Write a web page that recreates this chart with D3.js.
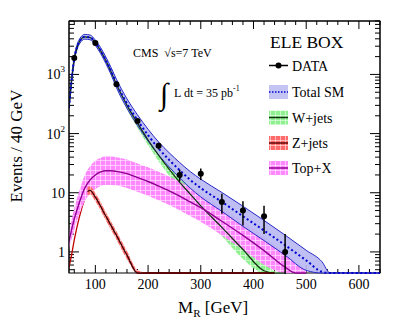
<!DOCTYPE html>
<html><head><meta charset="utf-8">
<script src="https://cdn.jsdelivr.net/npm/d3@7"></script>
<style>
body{margin:0;background:#fff}
svg{display:block}
text{font-family:"Liberation Serif","Times New Roman",serif;fill:#000}
</style>
</head><body>
<svg id="c" width="407" height="322"></svg>
<script>
// ---------------- data ----------------
const dataM   = [60,100,140,180,220,260,300,340,380,420,460];
const dataN   = [1900,3400,680,164,62,20,21,7,5,4,1];
const dataErr = [44,58,26,13,8,4.5,4.6,2.6,2.2,2,1];

const totM   = [50,55,60,65,70,80,90,100,110,120,130,140,160,180,200,220,240,260,280,300,340,380,420,460,500,530,545,640];
const totV   = [280,810,1830,2850,3620,4330,4230,3430,2530,1730,1130,705,322,168,94,56,36,24,16.5,12,7,4,2.3,1.3,0.72,0.46,0.3,0.001];
const totErr = [0.04,0.04,0.04,0.04,0.04,0.04,0.04,0.045,0.05,0.055,0.06,0.07,0.08,0.09,0.1,0.11,0.12,0.13,0.14,0.15,0.16,0.17,0.17,0.17,0.17,0.17,0.17,0.17];

const wM   = [50,55,60,65,70,80,90,100,110,120,130,140,160,180,200,220,240,260,280,300,340,380,420,440,460];
const wV   = [270,800,1800,2800,3600,4300,4200,3400,2500,1700,1100,680,300,150,78,43,25,15,9.5,6,2.6,1.1,0.48,0.32,0.2];
const wErr = [0.03,0.03,0.03,0.03,0.03,0.03,0.03,0.035,0.04,0.045,0.05,0.06,0.07,0.08,0.09,0.1,0.11,0.12,0.13,0.14,0.15,0.16,0.17,0.17,0.17];

const topM   = [50,55,60,70,80,90,100,110,120,130,140,160,180,200,220,240,260,280,300,340,380,420,460,480,500];
const topV   = [1.5,2.4,3.6,7,12,16.5,20,22.5,23.5,23.5,23,21,18,15.5,13,10.8,8.8,7,5.6,3.3,1.9,1.05,0.55,0.4,0.28];
const topErr = [0.14,0.16,0.18,0.2,0.22,0.23,0.24,0.24,0.24,0.24,0.24,0.24,0.24,0.24,0.24,0.24,0.24,0.24,0.24,0.24,0.24,0.24,0.24,0.24,0.24];

const zM   = [50,55,60,70,80,85,90,100,120,140,160,180,200,440];
const zV   = [0.55,0.9,1.6,4,8,10.5,11,8.4,4.0,1.9,0.88,0.42,0.2,0.001];
const zErr = [0.07,0.07,0.07,0.07,0.07,0.07,0.07,0.07,0.07,0.07,0.07,0.07,0.07,0.07];
const zBandStart = 82;

const xTicks = [100,200,300,400,500,600];
const yTicks = [1,10,100,1000];
const yTickLabels = [["1",""],["10",""],["10","2"],["10","3"]];

const legendItems = ["DATA","Total SM","W+jets","Z+jets","Top+X"];

// ---------------- layout ----------------
const L=69,R=380,T=21,B=273;
const ymin=0.44, ymax=8000;
const x = d3.scaleLinear().domain([50,640]).range([L,R]);
const y = d3.scaleLog().domain([ymin,ymax]).range([B,T]);
const cy = v => y(Math.max(v, ymin));

const svg = d3.select("#c");
svg.append("rect").attr("width",407).attr("height",322).attr("fill","#fff");
const defs = svg.append("defs");
defs.append("clipPath").attr("id","clip").append("rect")
  .attr("x",L).attr("y",T).attr("width",R-L).attr("height",B-T+1);

function pat(id, col){
  const p = defs.append("pattern").attr("id",id).attr("width",5).attr("height",5)
    .attr("patternUnits","userSpaceOnUse");
  p.append("rect").attr("width",5).attr("height",5).attr("fill",col);
  p.append("path").attr("d","M0,0.5H5M0.5,0V5").attr("stroke","#fff")
    .attr("stroke-width",0.7).attr("opacity",0.75);
}
pat("pGreen","#8ef08e");
pat("pRed","#ff6b6b");
pat("pPink","#ff88ff");

function series(M,V,E){ return M.map((m,i)=>({m, v:V[i], e:E[i]})); }
const area = d3.area().curve(d3.curveMonotoneX)
  .x(d=>x(d.m))
  .y0(d=>cy(d.v/Math.pow(10,d.e)))
  .y1(d=>cy(d.v*Math.pow(10,d.e)));
const line = d3.line().curve(d3.curveMonotoneX).x(d=>x(d.m)).y(d=>cy(d.v));
const lineLo = d3.line().curve(d3.curveMonotoneX).x(d=>x(d.m)).y(d=>cy(d.v/Math.pow(10,d.e)));
const lineHi = d3.line().curve(d3.curveMonotoneX).x(d=>x(d.m)).y(d=>cy(d.v*Math.pow(10,d.e)));

const W = series(wM,wV,wErr), TOP = series(topM,topV,topErr), Z = series(zM,zV,zErr), TOT = series(totM,totV,totErr);
const Zb = Z.filter(d=>d.m>=zBandStart);

// ---------------- frame & ticks (under the curves) ----------------
const ax = svg.append("g").attr("stroke","#000").attr("stroke-width",1);
ax.append("rect").attr("x",L).attr("y",T).attr("width",R-L).attr("height",B-T).attr("fill","none");
for(let m=60;m<=640;m+=20){
  const major = xTicks.includes(m);
  const len = major?8:4;
  ax.append("line").attr("x1",x(m)).attr("x2",x(m)).attr("y1",B).attr("y2",B-len);
  ax.append("line").attr("x1",x(m)).attr("x2",x(m)).attr("y1",T).attr("y2",T+len);
}
for(let p=-1;p<=3;p++){
  for(let k=1;k<=9;k++){
    const v=k*Math.pow(10,p);
    if(v<ymin||v>ymax) continue;
    const len = k===1?10:5;
    ax.append("line").attr("x1",L).attr("x2",L+len).attr("y1",y(v)).attr("y2",y(v));
    ax.append("line").attr("x1",R).attr("x2",R-len).attr("y1",y(v)).attr("y2",y(v));
  }
}

const g = svg.append("g").attr("clip-path","url(#clip)");
// W band
g.append("path").datum(W).attr("d",area).attr("fill","url(#pGreen)");
// Z line (lower-left part, under the Top band)
g.append("path").datum(Z).attr("d",line).attr("fill","none").attr("stroke","#c00000").attr("stroke-width",1.3);
// Top band
g.append("path").datum(TOP).attr("d",area).attr("fill","url(#pPink)");
// Z band
g.append("path").datum(Zb).attr("d",area).attr("fill","url(#pRed)");
// Total SM band
g.append("path").datum(TOT).attr("d",area).attr("fill","#b8b8f2").attr("fill-opacity",0.9);
g.append("path").datum(TOT).attr("d",lineLo).attr("fill","none").attr("stroke","#2828c8").attr("stroke-width",1);
g.append("path").datum(TOT).attr("d",lineHi).attr("fill","none").attr("stroke","#2828c8").attr("stroke-width",1);
// lines
g.append("path").datum(W).attr("d",line).attr("fill","none").attr("stroke","#103010").attr("stroke-width",1.2);
g.append("path").datum(TOP).attr("d",line).attr("fill","none").attr("stroke","#900090").attr("stroke-width",1.4);
g.append("path").datum(Zb).attr("d",line).attr("fill","none").attr("stroke","#400000").attr("stroke-width",1.3);
g.append("path").datum(TOT).attr("d",line).attr("fill","none").attr("stroke","#0000d0")
  .attr("stroke-width",2).attr("stroke-dasharray","2,2.5");

// data
const dg = svg.append("g").attr("clip-path","url(#clip)");
dataM.forEach((m,i)=>{
  const lo = dataN[i]-dataErr[i], hi = dataN[i]+dataErr[i];
  dg.append("line").attr("x1",x(m)).attr("x2",x(m))
    .attr("y1",lo>0?y(lo):B+2).attr("y2",y(hi)).attr("stroke","#000").attr("stroke-width",1.5);
  dg.append("circle").attr("cx",x(m)).attr("cy",y(dataN[i])).attr("r",3).attr("fill","#000");
});

// left/right frame edges redrawn on top
const ax2 = svg.append("g").attr("stroke","#000").attr("stroke-width",1);
ax2.append("line").attr("x1",L).attr("x2",L).attr("y1",T).attr("y2",B);
ax2.append("line").attr("x1",R).attr("x2",R).attr("y1",T).attr("y2",B);
ax2.append("line").attr("x1",L).attr("x2",R).attr("y1",T).attr("y2",T);

// tick labels
xTicks.forEach(t=>{
  svg.append("text").attr("x",x(t)).attr("y",289).attr("text-anchor","middle")
    .attr("font-size",14).text(t);
});
yTicks.forEach((t,i)=>{
  const tx = svg.append("text").attr("x",65).attr("y",y(t)+5).attr("text-anchor","end").attr("font-size",14);
  tx.append("tspan").text(yTickLabels[i][0]);
  if(yTickLabels[i][1]) tx.append("tspan").attr("font-size",9).attr("dy",-7).text(yTickLabels[i][1]);
});

// axis titles
svg.append("text").attr("transform","translate(22,146) rotate(-90)").attr("text-anchor","middle")
  .attr("font-size",17).text("Events / 40 GeV");
const xt = svg.append("text").attr("x",178).attr("y",313).attr("font-size",17);
xt.append("tspan").text("M");
xt.append("tspan").attr("font-size",11).attr("dy",4).text("R");
xt.append("tspan").attr("dy",-4).text(" [GeV]");

// annotations
svg.append("text").attr("x",133).attr("y",57).attr("font-size",12).text("CMS\u00A0\u00A0\u221As=7 TeV");
svg.append("text").attr("x",160).attr("y",104).attr("font-size",30).text("\u222B");
const lt = svg.append("text").attr("x",174).attr("y",97).attr("font-size",12);
lt.append("tspan").text("L dt = 35 pb");
lt.append("tspan").attr("font-size",8).attr("dy",-6).text("-1");

// legend
svg.append("text").attr("x",270).attr("y",48).attr("font-size",17.5).text("ELE BOX");
const ly = [65.5,92,117.5,143,168];
const lx0=269, lx1=288;
legendItems.forEach((t,i)=>{
  svg.append("text").attr("x",292).attr("y",ly[i]+5).attr("font-size",14).text(t);
});
// DATA
svg.append("line").attr("x1",lx0).attr("x2",lx1).attr("y1",ly[0]).attr("y2",ly[0]).attr("stroke","#000").attr("stroke-width",1.5);
svg.append("circle").attr("cx",(lx0+lx1)/2).attr("cy",ly[0]).attr("r",3).attr("fill","#000");
// Total SM
svg.append("rect").attr("x",lx0).attr("y",ly[1]-7).attr("width",lx1-lx0).attr("height",14).attr("fill","#c4c4f4");
svg.append("line").attr("x1",lx0).attr("x2",lx1).attr("y1",ly[1]).attr("y2",ly[1]).attr("stroke","#0000d0").attr("stroke-width",1.5).attr("stroke-dasharray","1.5,1.5");
// W, Z, Top
[["url(#pGreen)","#103010"],["url(#pRed)","#600000"],["url(#pPink)","#900090"]].forEach((s,j)=>{
  const yy = ly[j+2];
  svg.append("rect").attr("x",lx0).attr("y",yy-7).attr("width",lx1-lx0).attr("height",14).attr("fill",s[0]);
  svg.append("line").attr("x1",lx0).attr("x2",lx1).attr("y1",yy).attr("y2",yy).attr("stroke",s[1]).attr("stroke-width",1.5);
});
</script>
</body></html>
